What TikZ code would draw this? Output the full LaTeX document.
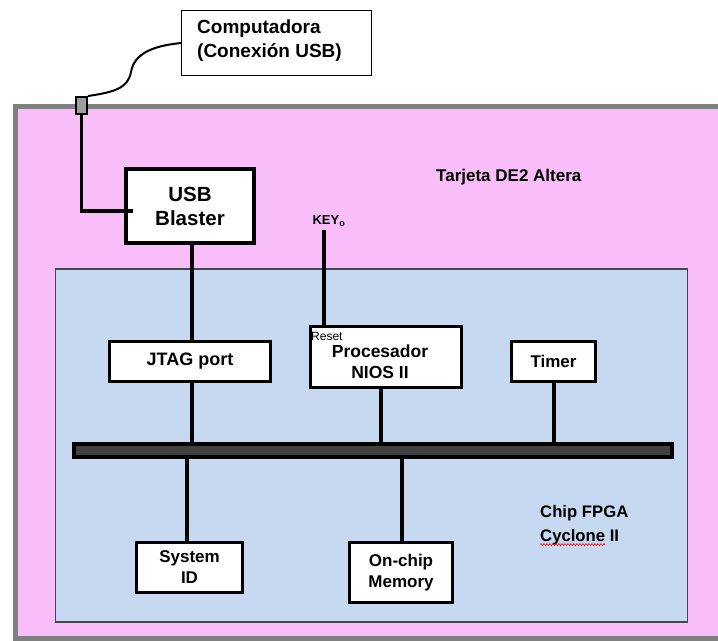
\documentclass[tikz,border=0pt]{standalone}
\usepackage{fontspec}
\setmainfont{Liberation Sans}
\usetikzlibrary{decorations.pathmorphing}
\definecolor{boardpink}{RGB}{249,189,249}
\definecolor{chipblue}{RGB}{198,217,241}
\definecolor{boardgray}{RGB}{128,128,128}
\definecolor{busgray}{RGB}{64,64,64}
\definecolor{chipedge}{RGB}{70,70,80}
\newcommand\fsz[2]{\fontsize{#1bp}{#2bp}\selectfont}
\begin{document}
\begin{tikzpicture}[x=1bp,y=-1bp,
  blk/.style={draw=black,line width=3bp,fill=white,inner sep=0pt,align=center,
    font=\bfseries\fsz{17.5}{21}},
  wire/.style={line width=3.2bp,black},
  lbl/.style={inner sep=0pt,align=left},
]
\useasboundingbox (0,0) rectangle (718,641);
\begin{scope}
\clip (0,0) rectangle (718,641);
% board
\draw[boardgray,line width=5bp,fill=boardpink] (15.5,106.5) rectangle (740,638.5);
% chip
\draw[chipedge,line width=1.2bp,fill=chipblue] (55.5,269) rectangle (687.5,622);
\end{scope}

% computer
\node (comp) [draw=black,line width=1.2bp,fill=white,minimum width=190,minimum height=65,inner sep=0pt] at (276.5,43) {};
\node (comptxt) [lbl,anchor=west,font=\bfseries\fsz{19}{24}] at (197,41) {Computadora\\(Conexión USB)};

% USB connector
\node (conn) [draw=black,line width=1.5bp,fill=gray!75,minimum width=11.5,minimum height=17.5,inner sep=0pt] at (81.5,105.5) {};
\draw[line width=2bp] (conn.north east) .. controls (115,92) and (128,88) .. (131,72)
  .. controls (134,55) and (150,46) .. (comp.west);

% USB Blaster
\node (usb) [blk,line width=4bp,minimum width=128,minimum height=74,font=\bfseries\fsz{20.5}{24}] at (190,206) {USB\\Blaster};
\coordinate (usbin) at (133,211);
\draw[wire] (conn.south) |- (usbin);

% labels
\node (tarjeta) [lbl,anchor=west,font=\bfseries\fsz{17}{20}] at (436,177) {Tarjeta DE2 Altera};
\node (key) [lbl,font=\bfseries\fsz{13}{15}] at (329,221) {KEY\textsubscript{o}};
\node (chiplbl) [lbl,anchor=west,font=\bfseries\fsz{16.7}{23.5}] at (540,525) {Chip FPGA\\Cyclone II};
\draw[red,line width=0.6bp,decorate,decoration={snake,amplitude=0.9bp,segment length=3bp}] (540,544.5) -- (605,544.5);

% blocks
\node (jtag) [blk,minimum width=161,minimum height=40,font=\bfseries\fsz{18}{21}] at (190,361.5) {JTAG port};
\node (proc) [blk,minimum width=151,minimum height=61] at (386,357) {};
\node (proctxt) [lbl,align=center,font=\bfseries\fsz{17.5}{21}] at (380,362) {Procesador\\NIOS II};
\node (reset) [lbl,anchor=west,font=\fsz{12}{14}] at (311,336) {Reset};
\node (timer) [blk,minimum width=84,minimum height=40,font=\bfseries\fsz{17}{20}] at (553.5,361.5) {Timer};
\node (sysid) [blk,minimum width=106,minimum height=50,font=\bfseries\fsz{17}{21}] at (189.5,567.5) {System\\ID};
\node (mem) [blk,minimum width=104,minimum height=60,font=\bfseries\fsz{17}{21}] at (401,572.5) {On-chip\\Memory};

% bus
\node (bus) [draw=black,line width=4bp,fill=busgray,minimum width=601,minimum height=13,inner sep=0pt] at (373,450.5) {};

% connections
\coordinate (xa) at (192,0);
\coordinate (xp) at (381,0);
\coordinate (xt) at (554,0);
\coordinate (xs) at (187,0);
\coordinate (xm) at (402,0);
\coordinate (keytop) at (324,230);
\draw[wire] (usb.south -| xa) -- (jtag.north -| xa);
\draw[wire] (jtag.south -| xa) -- (bus.north -| xa);
\draw[wire] (proc.south -| xp) -- (bus.north -| xp);
\draw[wire] (timer.south -| xt) -- (bus.north -| xt);
\draw[wire] (bus.south -| xs) -- (sysid.north -| xs);
\draw[wire] (bus.south -| xm) -- (mem.north -| xm);
\draw[wire] (keytop) -- (proc.north -| keytop);
\end{tikzpicture}
\end{document}
